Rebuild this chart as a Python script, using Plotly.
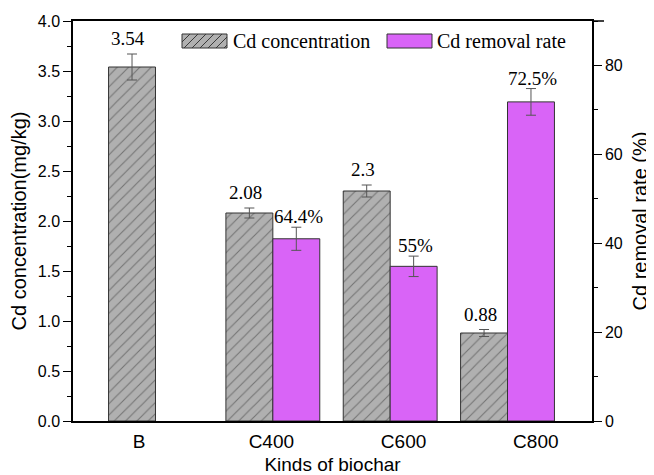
import plotly.graph_objects as go

categories = ["B", "C400", "C600", "C800"]
conc_values = [3.54, 2.08, 2.30, 0.88]
conc_errors = [0.13, 0.05, 0.06, 0.035]
conc_labels = ["3.54", "2.08", "2.3", "0.88"]
rate_values = [None, 41.0, 34.8, 71.8]
rate_errors = [None, 2.6, 2.3, 3.0]
rate_labels = ["", "64.4%", "55%", "72.5%"]
left_ticks = [0, 0.5, 1.0, 1.5, 2.0, 2.5, 3.0, 3.5, 4.0]
right_ticks = [0, 20, 40, 60, 80]

GRAY = "#b0b0b0"
MAGENTA = "#d964f7"
SANS = "Liberation Sans, Arial, sans-serif"
SERIF = "Liberation Serif, Times New Roman, serif"
BW = 0.4

OFF = 8  # page body margin
W, H = 646, 467
ML, MR, MT, MB = 65, 62, 13, 54
PW, PH = W - ML - MR, H - MT - MB

def px(x):
    return (x - OFF - ML) / PW

def py(y):
    return (H + OFF - MB - y) / PH

fig = go.Figure()
fig.add_trace(go.Bar(
    x=categories, y=conc_values, name="Cd concentration",
    width=BW, offset=-BW, xaxis="x", yaxis="y",
    marker=dict(color=GRAY, line=dict(color="#333333", width=1),
                pattern=dict(shape="/", size=8, solidity=0.14,
                             fgcolor="#3a3a3a", bgcolor=GRAY)),
    error_y=dict(type="data", array=conc_errors, color="#555555", thickness=1, width=5),
    showlegend=False,
))
fig.add_trace(go.Bar(
    x=categories, y=rate_values, name="Cd removal rate",
    width=BW, offset=0, xaxis="x", yaxis="y2",
    marker=dict(color=MAGENTA, line=dict(color="#333333", width=1)),
    error_y=dict(type="data", array=rate_errors, color="#555555", thickness=1, width=5),
    showlegend=False,
))
# invisible trace that carries the category tick-label axis
fig.add_trace(go.Scatter(
    x=categories, y=[0] * len(categories), xaxis="x2", yaxis="y",
    mode="markers", marker=dict(opacity=0), hoverinfo="skip", showlegend=False,
))

annotations = []
for i, (v, e, t) in enumerate(zip(conc_values, conc_errors, conc_labels)):
    annotations.append(dict(x=i - BW / 2, y=v + e, xref="x", yref="y", text=t,
                            showarrow=False, yanchor="bottom", xshift=-4, yshift=3,
                            font=dict(family=SERIF, size=19, color="black")))
for i, (v, e, t) in enumerate(zip(rate_values, rate_errors, rate_labels)):
    if v is None:
        continue
    annotations.append(dict(x=i + BW / 2, y=v + e, xref="x", yref="y2", text=t,
                            showarrow=False, yanchor="bottom", xshift=2, yshift=-2,
                            font=dict(family=SERIF, size=19, color="black")))

# legend drawn manually
shapes = []
def swatch(x0, x1, y0, y1, fill, hatch):
    shapes.append(dict(type="rect", xref="paper", yref="paper",
                       x0=px(x0), x1=px(x1), y0=py(y1), y1=py(y0),
                       fillcolor=fill, line=dict(color="#333333", width=1), layer="above"))
    if hatch:
        h = y1 - y0
        segs = []
        u = x0 - h
        while u < x1:
            t0 = max(0.0, (x0 - u) / h)
            t1 = min(1.0, (x1 - u) / h)
            if t1 > t0:
                xa, ya = u + t0 * h, y1 - t0 * h
                xb, yb = u + t1 * h, y1 - t1 * h
                segs.append(f"M{px(xa)},{py(ya)} L{px(xb)},{py(yb)}")
            u += 8
        shapes.append(dict(type="path", xref="paper", yref="paper", path=" ".join(segs),
                           line=dict(color="#3a3a3a", width=1), layer="above"))

swatch(182, 227, 34, 48, GRAY, True)
swatch(387, 432, 34, 48, MAGENTA, False)
annotations.append(dict(x=px(231), y=py(41), xref="paper", yref="paper", text="Cd concentration",
                        showarrow=False, xanchor="left", yanchor="middle",
                        font=dict(family=SERIF, size=20, color="black")))
annotations.append(dict(x=px(435), y=py(41), xref="paper", yref="paper", text="Cd removal rate",
                        showarrow=False, xanchor="left", yanchor="middle",
                        font=dict(family=SERIF, size=20, color="black")))
# top frame line extends a little past the right axis, as in the original
shapes.append(dict(type="line", xref="paper", yref="paper", x0=1, x1=px(604), y0=1, y1=1,
                   line=dict(color="black", width=1.5)))

fig.update_layout(
    width=W, height=H,
    margin=dict(l=ML, r=MR, t=MT, b=MB, autoexpand=False),
    paper_bgcolor="white", plot_bgcolor="white",
    showlegend=False,
    xaxis=dict(type="category", range=[-0.703, 3.72], showticklabels=False, ticks="",
               showline=True, linecolor="black", linewidth=1.5, mirror=True,
               showgrid=False, zeroline=False, automargin=False),
    xaxis2=dict(type="category", overlaying="x", anchor="y", side="bottom",
                range=[-0.5, 3.425], showline=False, showgrid=False, zeroline=False, ticks="",
                ticklabelstandoff=7, automargin=False,
                tickfont=dict(family=SANS, size=19, color="black"),
                title=dict(text="Kinds of biochar", font=dict(family=SANS, size=19, color="black"),
                           standoff=14)),
    yaxis=dict(range=[0, 4.0], tickvals=left_ticks, tickformat=".1f",
               ticks="outside", ticklen=8, tickwidth=1.2, tickcolor="black",
               minor=dict(dtick=0.25, ticks="outside", ticklen=4, tickcolor="black", tickwidth=1.2),
               showline=True, linecolor="black", linewidth=1.5,
               showgrid=False, zeroline=False, automargin=False,
               tickfont=dict(family=SANS, size=16, color="black"),
               title=dict(text="Cd concentration(mg/kg)", font=dict(family=SANS, size=20, color="black"),
                          standoff=6)),
    yaxis2=dict(overlaying="y", side="right", anchor="x", range=[0, 90], tickvals=right_ticks,
                ticks="outside", ticklen=8, tickwidth=1.2, tickcolor="black",
                minor=dict(dtick=10, ticks="outside", ticklen=4, tickcolor="black", tickwidth=1.2),
                showline=True, linecolor="black", linewidth=1.5,
                showgrid=False, zeroline=False, automargin=False,
                tickfont=dict(family=SANS, size=16, color="black"),
                title=dict(text="Cd removal rate (%)", font=dict(family=SANS, size=20, color="black"),
                           standoff=11)),
    annotations=annotations,
    shapes=shapes,
)

fig.write_html("out.html")
